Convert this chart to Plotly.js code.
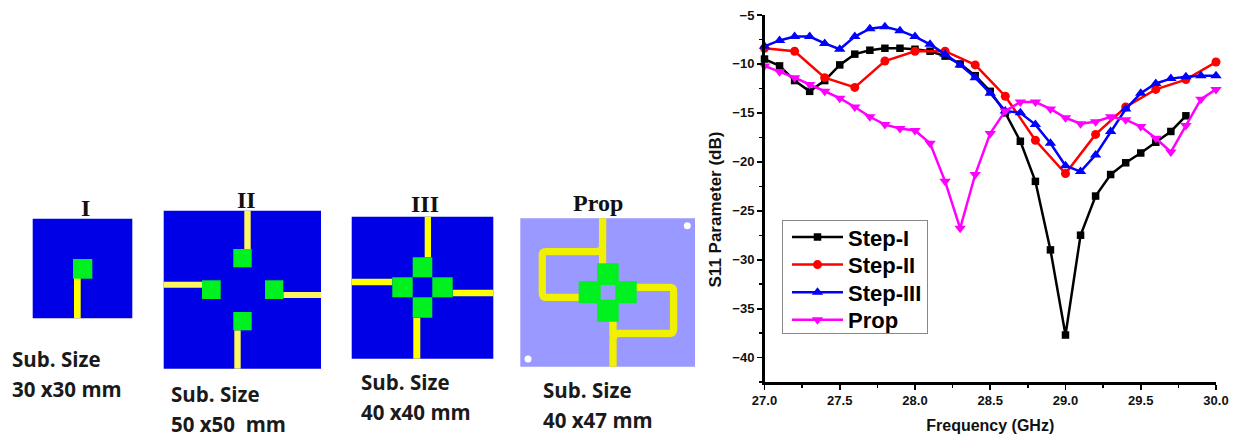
<!DOCTYPE html>
<html><head><meta charset="utf-8">
<script src="https://cdn.plot.ly/plotly-3.0.1.min.js"></script>
<style>html,body{margin:0;padding:0;background:#fff}#c{width:1233px;height:438px}</style>
</head><body><div id="c"></div>
<script>
var W = 1233, H = 438;
var freqFine = [27.0,27.1,27.2,27.3,27.4,27.5,27.6,27.7,27.8,27.9,28.0,28.1,28.2,28.3,28.4,28.5,28.6,28.7,28.8,28.9,29.0,29.1,29.2,29.3,29.4,29.5,29.6,29.7,29.8,29.9,30.0];
var freqStepI = [27.0,27.1,27.2,27.3,27.4,27.5,27.6,27.7,27.8,27.9,28.0,28.1,28.2,28.3,28.4,28.5,28.6,28.7,28.8,28.9,29.0,29.1,29.2,29.3,29.4,29.5,29.6,29.7,29.8];
var freqStepII = [27.0,27.2,27.4,27.6,27.8,28.0,28.2,28.4,28.6,28.8,29.0,29.2,29.4,29.6,29.8,30.0];
var stepI = [-9.5,-10.2,-11.7,-12.8,-11.7,-10.1,-9.0,-8.6,-8.4,-8.4,-8.5,-8.7,-9.2,-10.0,-11.2,-12.8,-15.0,-17.9,-22.0,-29.0,-37.7,-27.5,-23.5,-21.3,-20.1,-19.1,-18.0,-16.9,-15.3];
var stepII = [-8.4,-8.7,-11.4,-12.4,-9.7,-8.7,-8.7,-10.1,-13.3,-17.8,-21.2,-17.2,-14.4,-12.6,-11.6,-9.8];
var stepIII = [-8.2,-7.6,-7.2,-7.2,-7.9,-8.5,-7.2,-6.4,-6.2,-6.6,-7.2,-8.0,-9.0,-10.1,-11.4,-13.0,-14.8,-15.0,-16.2,-18.1,-20.4,-21.0,-19.3,-16.9,-14.6,-13.0,-12.0,-11.5,-11.3,-11.2,-11.2];
var prop = [-10.2,-10.8,-11.4,-12.1,-12.8,-13.5,-14.4,-15.4,-16.2,-16.6,-16.8,-18.1,-22.0,-26.8,-21.3,-17.1,-14.8,-13.9,-13.9,-14.6,-15.5,-16.1,-15.9,-15.4,-15.7,-16.4,-17.6,-19.0,-16.3,-13.6,-12.6];

function px(x){return x/W;}
function py(y){return 1-y/H;}
var plotL=764.5, plotR=1216, plotT=15, plotB=382;

var BLUE='#0000e6', GREEN='#00f020', YEL='#ffff00', PALE='#fff560', LILAC='#9999ff', PYEL='#f0f000';
function rect(x0,y0,x1,y1,c){return {type:'rect',xref:'paper',yref:'paper',x0:px(x0),x1:px(x1),y0:py(y0),y1:py(y1),fillcolor:c,line:{width:0},layer:'above'};}
function circle(cx,cy,r,c){return {type:'circle',xref:'paper',yref:'paper',x0:px(cx-r),x1:px(cx+r),y0:py(cy-r),y1:py(cy+r),fillcolor:c,line:{width:0},layer:'above'};}
function pathOf(cmds,c,w){
  var s=cmds.map(function(k){return k[0]+' '+k.slice(1).map(function(v,i){return (i%2?py(v):px(v)).toFixed(5);}).join(' ');}).join(' ');
  return {type:'path',xref:'paper',yref:'paper',path:s,line:{color:c,width:w},fillcolor:'rgba(0,0,0,0)',layer:'above'};
}
var diagrams=[
  // I
  rect(32.7,218.7,132.3,318.3,BLUE), rect(74,278,80.7,318.3,YEL), rect(73,259,92.3,278.7,GREEN),
  // II
  rect(163.7,210.7,321,368.7,BLUE),
  rect(244.3,210.7,250.7,249,PALE), rect(163.7,281.7,202,287.7,PALE), rect(283.3,292,321,298,PALE), rect(234.3,330.3,240.7,368.7,PALE),
  rect(233.3,249,251.7,267.3,GREEN), rect(202,280.3,220.7,299,GREEN), rect(265,280.3,283.3,299,GREEN), rect(233.3,312,251.7,330.3,GREEN),
  // III
  rect(351.7,216.7,493.3,358.7,BLUE),
  rect(424.7,216.7,431,257.3,YEL), rect(351.7,278.7,392.3,285.3,YEL), rect(452.7,289.7,493.3,296.3,YEL), rect(413.3,317.7,420.3,358.7,YEL),
  rect(412.7,257.3,432.3,277.3,GREEN), rect(392.3,277.3,412.7,297.3,GREEN), rect(432.3,277.3,452.7,297.3,GREEN), rect(412.7,297.3,432.3,317.7,GREEN),
  // Prop
  rect(520.3,218.3,695,366.7,LILAC),
  circle(687.3,225.7,3.5,'#fff'), circle(528,359,3.5,'#fff'),
  pathOf([['M',602.6,218.3],['L',602.6,246],['Q',602.6,251.6,596,251.6],['L',546,251.6],['Q',542.3,251.6,542.3,255],['L',542.3,293],['Q',542.3,297.3,546,297.3],['L',580,297.3]],PYEL,7.3),
  pathOf([['M',602.6,248],['L',602.6,265]],PYEL,7.3),
  pathOf([['M',635,287.3],['L',670,287.3],['Q',673.6,287.3,673.6,291],['L',673.6,329],['Q',673.6,333.3,670,333.3],['L',619,333.3],['Q',613,333.3,613,339],['L',613,366.7]],PYEL,7.3),
  pathOf([['M',613,320],['L',613,336]],PYEL,7.3),
  rect(597,263.3,618.7,321.7,GREEN), rect(578.7,281.3,636.7,303.3,GREEN), rect(600.7,285,615.3,299.7,LILAC)
];

var subLabels=[
  {t:'Sub. Size',x:11.7,y:359},{t:'30 x30 mm',x:11.7,y:389},
  {t:'Sub. Size',x:170.7,y:394},{t:'50 x50  mm',x:170.7,y:423.5},
  {t:'Sub. Size',x:361,y:382},{t:'40 x40 mm',x:361,y:412},
  {t:'Sub. Size',x:543,y:390},{t:'40 x47 mm',x:543,y:419.5}
];
var heads=[{t:'I',x:85,y:208},{t:'II',x:247,y:200},{t:'III',x:425,y:204},{t:'Prop',x:598,y:203}];
var annotations=subLabels.map(function(a){return {text:a.t.replace(/  /g,'\u00a0 '),xref:'paper',yref:'paper',x:px(a.x-1),y:py(a.y),xanchor:'left',yanchor:'middle',align:'left',showarrow:false,borderpad:0,font:{family:'"Open Sans"',size:20.5,color:'#1a1a1a',weight:700}};})
 .concat(heads.map(function(a){return {text:'<b>'+a.t+'</b>',xref:'paper',yref:'paper',x:px(a.x),y:py(a.y),xanchor:'center',yanchor:'middle',showarrow:false,font:{family:'"Liberation Serif"',size:24,color:'#111'}};}));

function tr(name,x,y,color,sym,size){return {type:'scatter',mode:'lines+markers',name:name,x:x,y:y,line:{color:color,width:2.5},marker:{symbol:sym,size:size,color:color},cliponaxis:false};}
var traces=[
  tr('Step-I',freqStepI,stepI,'#000000','square',7.5),
  tr('Step-II',freqStepII,stepII,'#ff0000','circle',9),
  tr('Step-III',freqFine,stepIII,'#0000ff','triangle-up',10),
  tr('Prop',freqFine,prop,'#ff00ff','triangle-down',10)
];
var F='"Liberation Sans"';
var axisCommon={showgrid:false,zeroline:false,showline:true,linecolor:'#000',linewidth:2.5,ticks:'outside',ticklen:5,tickwidth:1.8,tickcolor:'#000',tickfont:{family:F,size:13,color:'#111',weight:700}};
var layout={
  width:W,height:H,margin:{l:0,r:0,t:0,b:0},paper_bgcolor:'#fff',plot_bgcolor:'#fff',
  xaxis:Object.assign({},axisCommon,{domain:[px(plotL),px(plotR)],range:[27,30],tick0:27,dtick:0.5,tickformat:'.1f',
    minor:{dtick:0.25,ticks:'outside',ticklen:3,tickwidth:1.4,tickcolor:'#000',showgrid:false},
    title:{text:'Frequency (GHz)',standoff:13,font:{family:F,size:16,color:'#111',weight:700}}}),
  yaxis:Object.assign({},axisCommon,{domain:[py(plotB),py(plotT)],range:[-42.5,-5],tick0:-5,dtick:5,
    minor:{dtick:2.5,ticks:'outside',ticklen:3,tickwidth:1.4,tickcolor:'#000',showgrid:false},
    title:{text:'S11 Parameter (dB)',standoff:7,font:{family:F,size:17,color:'#111',weight:700}}}),
  legend:{x:px(782),y:py(220),xref:'paper',yref:'paper',xanchor:'left',yanchor:'top',bgcolor:'#fff',bordercolor:'#888',borderwidth:1,font:{family:F,size:22,color:'#000',weight:700},itemwidth:51,traceorder:'normal'},
  shapes:diagrams,annotations:annotations,showlegend:true
};
Plotly.newPlot('c',traces,layout,{displayModeBar:false,staticPlot:true}).then(function(gd){
  // tighten legend rows to the reference's spacing
  var items=gd.querySelectorAll('.legend .traces');
  items.forEach(function(el,i){el.setAttribute('transform','translate(5,'+(17+27.6*i)+')');});
  var bg=gd.querySelector('.legend .bg');
  if(bg){bg.setAttribute('height','113');bg.setAttribute('width','145');}
  // the reference's y title sits below the axis centre
  var yt=gd.querySelector('.ytitle');
  if(yt){yt.setAttribute('transform','translate(0,11) '+(yt.getAttribute('transform')||''));}
});
</script></body></html>
